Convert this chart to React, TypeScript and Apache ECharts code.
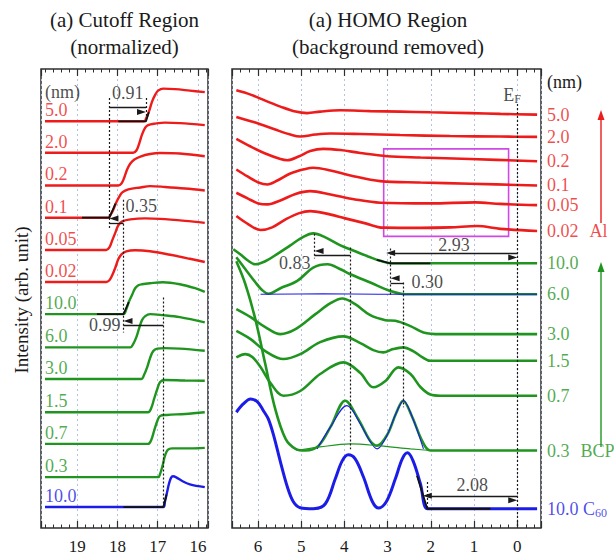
import { useEffect, useRef } from 'react';
import * as echarts from 'echarts';

type Pt = [number, number];

const FONT = '"Liberation Serif", "Times New Roman", Times, serif';
const RED = '#ee1b1b';
const GREEN = '#1f951f';
const BLUE = '#1c1ce8';
const INK = '#1a1a1a';
const FRAME = '#2e2e2e';
const GRIDLINE = '#b4c3e4';
const BOX = '#d048e6';

// ---------- Cutoff region: kinetic energy (eV) vs. normalized intensity ----------
const cutAl50: Pt[] = [[19.8, 0], [17.34, 0], [17.29, 2.7], [17.21, 10.7], [17.14, 19.7], [17.06, 26.7], [16.99, 30.7], [16.86, 32.7], [16.57, 32.2], [16.2, 30.7], [15.83, 29.2]];
const cutAl20: Pt[] = [[19.8, 0], [17.61, 0], [17.53, 2.3], [17.46, 9.3], [17.39, 18.3], [17.31, 25.3], [17.24, 27.8], [17.06, 29.3], [16.82, 30.3], [16.45, 29.8], [15.83, 27.8]];
const cutAl02: Pt[] = [[19.8, 0], [17.98, 0], [17.9, 2], [17.83, 8], [17.76, 16], [17.68, 22], [17.58, 26], [17.43, 29], [17.19, 31.5], [16.94, 32.5], [16.45, 32], [15.83, 29.3]];
const cutAl01: Pt[] = [[19.8, 0], [18.23, 0], [18.18, 2.3], [18.1, 8.3], [18.03, 15.3], [17.95, 21.3], [17.88, 25.3], [17.73, 28.3], [17.43, 30.3], [17.19, 31.6], [16.82, 30.8], [16.32, 29.3], [15.83, 27.3]];
const cutAl005: Pt[] = [[19.8, 0], [18.28, 0], [18.2, 2.7], [18.13, 9.7], [18.05, 17.7], [17.98, 24.7], [17.88, 28.7], [17.68, 30.7], [17.31, 31.7], [16.94, 31.2], [16.32, 29.2], [15.83, 27.2]];
const cutAl002: Pt[] = [[19.8, 0], [18.28, 0], [18.2, 1.7], [18.13, 6.7], [18.05, 14.7], [17.98, 22.7], [17.9, 27.7], [17.78, 30.7], [17.56, 31.7], [17.19, 30.7], [16.69, 27.2], [16.2, 23.2], [15.83, 20]];
const cutBcp100: Pt[] = [[19.8, 0], [17.85, 0], [17.78, 5], [17.71, 13], [17.63, 20], [17.56, 26], [17.48, 29], [17.39, 30], [17.19, 31], [16.87, 32], [16.45, 30], [16.07, 26], [15.83, 22.3]];
const cutBcp60: Pt[] = [[19.8, 0], [17.68, 0], [17.61, 3.3], [17.53, 10.3], [17.46, 19.3], [17.39, 27.3], [17.31, 31.3], [17.19, 33.3], [16.87, 32.3], [16.45, 30.3], [15.83, 25]];
const cutBcp30: Pt[] = [[19.8, 0], [17.41, 0], [17.34, 4], [17.26, 12], [17.19, 21], [17.11, 28], [17.01, 30.5], [16.82, 31], [16.45, 30.5], [15.83, 28.3]];
const cutBcp15: Pt[] = [[19.8, 0], [17.24, 0], [17.16, 4.3], [17.09, 13.3], [17.01, 23.3], [16.94, 30.3], [16.82, 32.3], [16.32, 31.8], [15.83, 31.6]];
const cutBcp07: Pt[] = [[19.8, 0], [17.24, 0], [17.16, 4], [17.09, 13], [17.01, 23], [16.94, 28], [16.77, 29], [16.32, 30], [15.83, 31.7]];
const cutBcp03: Pt[] = [[19.8, 0], [16.99, 0], [16.94, 3.3], [16.88, 11.3], [16.82, 21.3], [16.75, 27.3], [16.64, 28.8], [16.2, 28.8], [15.83, 29.3]];
const cutC60: Pt[] = [[19.8, 0], [16.86, 0], [16.82, 5.3], [16.77, 14.3], [16.72, 23.3], [16.67, 29.3], [16.62, 30.8], [16.54, 29.8], [16.4, 26.3], [16.2, 22.8], [15.83, 20]];

const cutoffCurves = [cutAl50, cutAl20, cutAl02, cutAl01, cutAl005, cutAl002, cutBcp100, cutBcp60, cutBcp30, cutBcp15, cutBcp07, cutBcp03, cutC60];
const cutoffLabels = ['5.0', '2.0', '0.2', '0.1', '0.05', '0.02', '10.0', '6.0', '3.0', '1.5', '0.7', '0.3', '10.0'];
const cutoffGroups = ['Al', 'Al', 'Al', 'Al', 'Al', 'Al', 'BCP', 'BCP', 'BCP', 'BCP', 'BCP', 'BCP', 'C60'];
const cutoffOffsets = [407.6, 376, 343.3, 311, 278.6, 246.6, 214.3, 181, 149.3, 116, 84.3, 51, 21];

// linear extrapolations of the cutoff edges (curve index, points)
const cutoffFits: [number, Pt[]][] = [
  [0, [[17.98, 0], [17.29, 0], [17.22, 9]]],
  [3, [[18.88, 0], [18.2, 0], [18.05, 14]]],
  [6, [[18.51, 0], [17.85, 0], [17.72, 12]]],
  [12, [[17.85, 0], [16.86, 0], [16.78, 12.5]]],
];

// cutoff positions (eV) and the shifts between them
const c60Cutoff = 16.86;
const cutoffShifts = [0.99, 0.35, 0.91];
const bcpCutoff = c60Cutoff + cutoffShifts[0];
const al01Cutoff = bcpCutoff + cutoffShifts[1];
const al50Cutoff = al01Cutoff - cutoffShifts[2];

// ---------- HOMO region: binding energy (eV) vs. intensity ----------
const homoAl50: Pt[] = [[6.5, 24.3], [6.17, 20], [5.83, 14], [5.48, 8], [5.13, 3], [4.86, 1.5], [4.56, 3], [4.09, 4.3], [3.4, 3.5], [2.71, 3], [2.01, 2.3], [1.09, 1.5], [0.39, 0.7], [-0.46, 0]];
const homoAl20: Pt[] = [[6.5, 20], [6.06, 14.3], [5.6, 7.3], [5.25, 2.3], [5.02, 0.3], [4.67, 2.3], [4.32, 3.3], [3.63, 2.8], [2.71, 1.8], [1.55, 0.8], [0.39, 0.3], [-0.46, 0]];
const homoAl02: Pt[] = [[6.5, 22.4], [6.17, 14.7], [5.83, 7.7], [5.48, 2.2], [5.32, 1], [5.06, 4.7], [4.79, 10.2], [4.49, 12.4], [4.09, 11.2], [3.63, 8.2], [3.01, 5], [2.24, 3.7], [1.09, 2.2], [-0.46, 0]];
const homoAl01: Pt[] = [[6.5, 16], [6.24, 9], [5.99, 3], [5.78, 1], [5.55, 5], [5.25, 12], [4.9, 16.5], [4.72, 17.7], [4.32, 15], [3.86, 10], [3.17, 4.3], [2.24, 3], [1.09, 1.7], [-0.46, 0]];
const homoAl005: Pt[] = [[6.5, 12.4], [6.24, 6.7], [5.99, 1.7], [5.78, 0.7], [5.48, 4.7], [5.13, 11.2], [4.79, 14], [4.32, 10.7], [3.75, 5.7], [3.17, 2.4], [2.01, 1.7], [0.97, 2.7], [0.39, 1.2], [-0.46, 0]];
const homoAl002: Pt[] = [[6.5, 15], [6.22, 6.7], [5.94, 1], [5.67, 3.7], [5.36, 11.7], [5.06, 17.7], [4.79, 20], [4.44, 17.7], [3.98, 12.7], [3.51, 7.7], [3.1, 3.4], [2.24, 3.2], [1.55, 3.7], [0.93, 5], [0.39, 2.2], [-0.46, 0]];
const homoBcp100: Pt[] = [[6.57, 14], [6.41, 9], [6.24, 3], [6.06, -1], [5.83, 2], [5.53, 10], [5.25, 18], [4.97, 26], [4.72, 30], [4.44, 26], [4.09, 18], [3.75, 12], [3.4, 6], [3.17, 2.5], [2.93, 0], [-0.46, 0]];
const homoBcp60: Pt[] = [[6.5, 37], [6.29, 25], [6.06, 12], [5.9, 4], [5.76, 0.5], [5.48, 6], [5.09, 13.3], [4.72, 26.7], [4.39, 30], [4.09, 25], [3.86, 20], [3.4, 11.7], [2.94, 3.3], [2.59, 0], [-0.46, 0]];
const homoBcp30: Pt[] = [[6.5, 25], [6.17, 17], [5.83, 7], [5.48, 0], [5.13, 5], [4.67, 20], [4.32, 31], [4.05, 35.7], [3.75, 30], [3.4, 19], [3.05, 14], [2.82, 13.3], [2.47, 8], [2.17, 1.7], [1.78, 0], [-0.46, 0]];
const homoBcp15: Pt[] = [[6.5, 30], [6.17, 21.7], [5.83, 9.7], [5.41, 1.7], [5.02, 6.7], [4.56, 18.7], [4.02, 24.4], [3.63, 17.7], [3.33, 10.7], [3.1, 8.4], [2.87, 11.7], [2.64, 13.4], [2.41, 9.7], [2.2, 3.7], [2.01, 0], [-0.46, 0]];
const homoBcp07: Pt[] = [[6.5, 38.4], [6.29, 41.7], [6.13, 38.7], [5.94, 28.7], [5.71, 12.7], [5.41, 0], [5.02, 4.7], [4.56, 21.7], [4.02, 33.4], [3.63, 22.7], [3.33, 8.4], [3.05, 14.7], [2.75, 28.4], [2.47, 21.7], [2.24, 8.7], [2.01, 1.2], [1.78, 0], [-0.46, 0]];
const homoBcp03: Pt[] = [[6.5, 189.7], [6.29, 166.7], [6.06, 131.7], [5.83, 86.7], [5.6, 41.7], [5.36, 11.7], [5.13, 1.7], [4.9, 0], [4.6, 4.7], [4.32, 23.7], [3.98, 50], [3.68, 31.7], [3.4, 9.7], [3.24, 5], [3.01, 15.7], [2.8, 37.7], [2.64, 50], [2.43, 33.7], [2.2, 9.7], [2.01, 0], [-0.46, 0]];
const homoC60: Pt[] = [[6.5, 96.7], [6.34, 105], [6.17, 110], [6.01, 107], [5.87, 98], [5.76, 90], [5.64, 74], [5.48, 47], [5.32, 22], [5.18, 7], [5.02, 1], [4.72, 0], [4.44, 5], [4.21, 30], [4.05, 48], [3.91, 54], [3.75, 50], [3.56, 32], [3.35, 7], [3.21, 0.7], [3.03, 7], [2.82, 30], [2.66, 50], [2.54, 56], [2.41, 48], [2.24, 25], [2.08, 0], [1.78, 0], [-0.46, 0]];

const homoCurves = [homoAl50, homoAl20, homoAl02, homoAl01, homoAl005, homoAl002, homoBcp100, homoBcp60, homoBcp30, homoBcp15, homoBcp07, homoBcp03, homoC60];
const homoLabels = ['5.0', '2.0', '0.2', '0.1', '0.05', '0.02', '10.0', '6.0', '3.0', '1.5', '0.7', '0.3', '10.0'];
const homoGroups = ['Al', 'Al', 'Al', 'Al', 'Al', 'Al', 'BCP', 'BCP', 'BCP', 'BCP', 'BCP', 'BCP', 'C60'];
const homoOffsets = [414.3, 392, 367.6, 343.3, 323.6, 297.6, 265.3, 234.3, 194.3, 167.6, 132.6, 77.6, 19.3];

// onset extrapolations and reference curves (curve index, points)
const homoOnsetFits: [number, Pt[]][] = [
  [6, [[3.25, 3.5], [2.93, 0], [2.01, 0]]],
  [12, [[2.32, 33], [2.08, 0], [0.62, 0]]],
];
const c60OnBcp60: Pt[] = [[5.94, 0], [4.5, 0.3], [3.2, 0], [-0.46, 0]];
const c60OnBcp03: Pt[] = [[4.63, 1.7], [4.32, 23.7], [3.94, 45], [3.63, 26.7], [3.4, 8.7], [3.24, 1.7], [3.03, 13.7], [2.8, 37.7], [2.63, 50], [2.43, 33.7], [2.17, 1.7]];
const bcp03Background: Pt[] = [[5.11, 0], [4.56, 3.7], [3.86, 6.7], [3.17, 4.7], [2.47, 1.7], [2.01, 0]];

// energy positions (eV) read in the HOMO panel
const fermiLevel = 0;
const c60HomoPeak = 3.86;
const homoShifts = [0.83, 2.93, 0.3, 2.08];
const bcpHomoPeak = c60HomoPeak + homoShifts[0];
const bcpOnset = homoShifts[1];
const bcpSecondPeak = bcpOnset - homoShifts[2];
const c60Onset = homoShifts[3];

const groupColor = (g: string) => (g === 'Al' ? RED : g === 'BCP' ? GREEN : BLUE);
const shift = (pts: Pt[], off: number) => pts.map(([x, y]) => [x, y + off]);

function curve(pts: Pt[], off: number, color: string, panel: number, width: number, extra: any = {}) {
  return {
    type: 'line',
    xAxisIndex: panel === 0 ? 0 : 2,
    yAxisIndex: panel,
    data: shift(pts, off),
    symbol: 'none',
    showSymbol: false,
    smooth: 0.35,
    silent: true,
    lineStyle: { color, width },
    z: 3,
    ...extra,
  };
}

const dotted = (x: number, y0: number, y1: number) => [
  { coord: [x, y0], symbol: 'none', lineStyle: { type: [2, 2], width: 1.2, color: INK } },
  { coord: [x, y1], symbol: 'none' },
];
const arrow = (from: number, to: number, y: number, both: boolean) => [
  { coord: [from, y], symbol: both ? 'triangle' : 'none', lineStyle: { type: 'solid', width: 1.3, color: INK } },
  { coord: [to, y], symbol: 'triangle' },
];

function xAxis(gridIndex: number, min: number, max: number, splitNumber: number, position: string, main: boolean) {
  return {
    type: 'value',
    gridIndex,
    min,
    max,
    splitNumber,
    inverse: true,
    position,
    axisLine: { show: false },
    axisTick: { show: true, inside: true, length: 7, lineStyle: { color: FRAME, width: 1.2 } },
    minorTick: { show: true, splitNumber: 5, length: 3.5, lineStyle: { color: FRAME, width: 1 } },
    splitLine: { show: main, lineStyle: { color: GRIDLINE, type: [2, 3], width: 1 } },
    axisLabel: {
      show: main,
      interval: 0,
      margin: 10,
      fontSize: 17,
      fontFamily: FONT,
      color: INK,
      showMinLabel: false,
      showMaxLabel: false,
      formatter: (v: number) => (Math.abs(v - Math.round(v)) < 1e-6 ? String(Math.round(v)) : ''),
    },
  };
}

const textItem = (x: number, y: number, text: string, position: string, color = INK, distance = 0, rich?: any) => ({
  value: [x, y],
  label: { show: true, formatter: text, position, distance, color, rich },
});

export default function App() {
  const ref = useRef<HTMLDivElement>(null);

  useEffect(() => {
    document.body.style.margin = '0';
    if (!ref.current) return;
    const chart = echarts.init(ref.current, undefined, { renderer: 'svg' });

    const series: any[] = [];

    // cutoff panel
    cutoffCurves.forEach((c, i) => {
      series.push(curve(c, cutoffOffsets[i], groupColor(cutoffGroups[i]), 0, 2.4));
    });
    cutoffFits.forEach(([i, pts]) => {
      series.push(curve(pts, cutoffOffsets[i], '#111', 0, 1.8, { smooth: false, z: 4 }));
    });

    // HOMO panel
    homoCurves.forEach((c, i) => {
      series.push(curve(c, homoOffsets[i], groupColor(homoGroups[i]), 1, i === 12 ? 3 : 2.6));
    });
    homoOnsetFits.forEach(([i, pts]) => {
      series.push(curve(pts, homoOffsets[i], '#111', 1, 1.8, { smooth: false, z: 4 }));
    });
    series.push(curve(c60OnBcp60, homoOffsets[7], BLUE, 1, 1.1, { z: 4 }));
    series.push(curve(c60OnBcp03, homoOffsets[11], BLUE, 1, 1.1, { z: 4 }));
    series.push(curve(bcp03Background, homoOffsets[11], GREEN, 1, 1.1, { z: 4 }));

    // thickness labels at the right-hand end of each HOMO spectrum
    const homoEndLabels = homoCurves.map((c, i) => {
      const last = c[c.length - 1];
      const color = groupColor(homoGroups[i]);
      let text = homoLabels[i];
      if (i === 5) text += '{g|Al}';
      if (i === 11) text += '{g|BCP}';
      if (i === 12) text += ' C{sub|60}';
      return textItem(last[0], last[1] + homoOffsets[i], text, 'right', color, 10, {
        g: { fontFamily: FONT, fontSize: 18, color, padding: [0, 0, 0, 11] },
        sub: { fontFamily: FONT, fontSize: 12, color, padding: [8, 0, 0, 0] },
      });
    });

    const markLineBase = {
      silent: true,
      animation: false,
      symbol: ['none', 'none'],
      symbolSize: [6, 9],
      symbolOffset: [0, 4.5],
      label: { show: false },
      emphasis: { disabled: true },
      lineStyle: { color: INK, width: 1.3 },
    };

    // cutoff annotations
    series.push({
      type: 'scatter',
      xAxisIndex: 0,
      yAxisIndex: 0,
      symbolSize: 0,
      silent: true,
      z: 6,
      label: { show: true, fontFamily: FONT, fontSize: 18, color: INK },
      data: [
        textItem(19.8, 437.3, '(nm)', 'right'),
        ...cutoffLabels.map((t, i) => textItem(19.8, cutoffOffsets[i] + 11, t, 'right', groupColor(cutoffGroups[i]))),
        textItem((al01Cutoff + al50Cutoff) / 2, 436, cutoffShifts[2].toFixed(2), 'inside'),
        textItem(bcpCutoff, 322.6, cutoffShifts[1].toFixed(2), 'right', INK, 2),
        textItem(bcpCutoff, 203, cutoffShifts[0].toFixed(2), 'left', INK, 3),
      ],
      markLine: {
        ...markLineBase,
        data: [
          dotted(al01Cutoff, 431, 299),
          dotted(al50Cutoff, 431, 407),
          arrow(al01Cutoff, al50Cutoff, 421.3, false),
          dotted(bcpCutoff, 329, 196),
          arrow(bcpCutoff, al01Cutoff, 305.7, false),
          dotted(c60Cutoff, 231, 21),
          arrow(c60Cutoff, bcpCutoff, 203, false),
        ],
      },
    });

    // HOMO annotations
    series.push({
      type: 'scatter',
      xAxisIndex: 2,
      yAxisIndex: 1,
      symbolSize: 0,
      silent: true,
      z: 6,
      label: { show: true, fontFamily: FONT, fontSize: 18, color: INK },
      data: [
        ...homoEndLabels,
        textItem(0.12, 434, 'E{s|F}', 'inside', INK, 0, {
          s: { fontFamily: FONT, fontSize: 12, color: INK, padding: [8, 0, 0, 0] },
        }),
        textItem(bcpHomoPeak, 266, homoShifts[0].toFixed(2), 'left', INK, 4),
        textItem(bcpOnset / 2, 284, homoShifts[1].toFixed(2), 'inside'),
        textItem(bcpSecondPeak, 247, homoShifts[2].toFixed(2), 'right', INK, 8),
        textItem(c60Onset / 2, 43, homoShifts[3].toFixed(2), 'inside'),
      ],
      markLine: {
        ...markLineBase,
        data: [
          dotted(fermiLevel, 425, 0),
          dotted(bcpHomoPeak, 295, 270),
          dotted(c60HomoPeak, 281, 79),
          arrow(c60HomoPeak, bcpHomoPeak, 273, false),
          dotted(bcpOnset, 280, 234),
          arrow(bcpOnset, fermiLevel, 275.7, true),
          dotted(bcpSecondPeak, 246, 121),
          arrow(bcpSecondPeak, bcpOnset, 245.7, false),
          dotted(c60Onset, 46, 19),
          arrow(c60Onset, fermiLevel, 32.3, true),
        ],
      },
      markArea: {
        silent: true,
        itemStyle: { color: 'rgba(0,0,0,0)', borderColor: BOX, borderWidth: 1.6 },
        data: [[{ coord: [3.09, 380] }, { coord: [0.2, 292.3] }]],
      },
    });

    const titleStyle = (text: string) => ({
      text,
      fontFamily: FONT,
      fontSize: 21,
      fill: INK,
      align: 'center',
      verticalAlign: 'top',
      lineHeight: 27,
    });

    chart.setOption({
      animation: false,
      backgroundColor: '#ffffff',
      grid: [
        { left: 41, top: 69, width: 167, height: 460, show: true, borderColor: FRAME, borderWidth: 1.5, backgroundColor: 'transparent' },
        { left: 232, top: 69, width: 309, height: 460, show: true, borderColor: FRAME, borderWidth: 1.5, backgroundColor: 'transparent' },
      ],
      xAxis: [
        xAxis(0, 15.75, 19.9, 4, 'bottom', true),
        xAxis(0, 15.75, 19.9, 4, 'top', false),
        xAxis(1, -0.55, 6.6, 6, 'bottom', true),
        xAxis(1, -0.55, 6.6, 6, 'top', false),
      ],
      yAxis: [
        { type: 'value', gridIndex: 0, min: 0, max: 460, show: false },
        { type: 'value', gridIndex: 1, min: 0, max: 460, show: false },
      ],
      graphic: [
        { type: 'text', x: 124.5, y: 6.5, style: titleStyle('(a) Cutoff Region\n(normalized)') },
        { type: 'text', x: 388, y: 6.5, style: titleStyle('(a) HOMO Region\n(background removed)') },
        {
          type: 'text',
          x: 21,
          y: 300,
          rotation: Math.PI / 2,
          style: { text: 'Intensity (arb. unit)', fontFamily: FONT, fontSize: 19, fill: INK, align: 'center', verticalAlign: 'middle' },
        },
        {
          type: 'text',
          x: 547,
          y: 82,
          style: { text: '(nm)', fontFamily: FONT, fontSize: 18, fill: INK, align: 'left', verticalAlign: 'middle' },
        },
        { type: 'line', shape: { x1: 601, y1: 223, x2: 601, y2: 118 }, style: { stroke: RED, lineWidth: 1.4 } },
        { type: 'polygon', shape: { points: [[601, 110], [597.5, 120], [604.5, 120]] }, style: { fill: RED } },
        { type: 'line', shape: { x1: 601, y1: 447, x2: 601, y2: 270 }, style: { stroke: GREEN, lineWidth: 1.4 } },
        { type: 'polygon', shape: { points: [[601, 262], [597.5, 272], [604.5, 272]] }, style: { fill: GREEN } },
      ],
      series,
    });

    return () => chart.dispose();
  }, []);

  return <div ref={ref} style={{ width: 614, height: 555 }} />;
}
